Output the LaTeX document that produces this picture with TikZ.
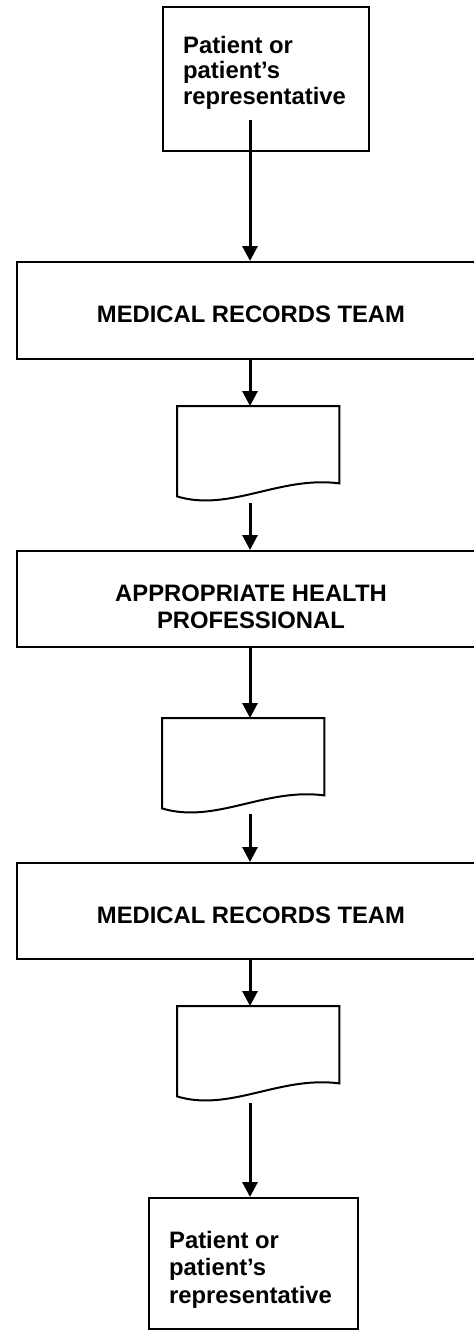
\documentclass[tikz,border=0pt]{standalone}
\usepackage{fontspec}
\setmainfont{Liberation Sans}
\usetikzlibrary{arrows.meta}
\begin{document}
\begin{tikzpicture}[x=1pt,y=-1pt,
  boxn/.style={draw=black,line width=2pt,inner sep=0pt,anchor=north west},
  docn/.style={draw=none,inner sep=0pt,anchor=north west,minimum width=162pt,minimum height=90pt},
  docline/.style={draw=black,line width=2pt,line join=miter},
  txt/.style={inner sep=0pt,font=\fontsize{23.8}{25.5}\selectfont\bfseries},
  arr/.style={draw=black,line width=3pt,-{Triangle[width=15pt,length=15pt]}}]
\clip (0,0) rectangle (474,1334);
\useasboundingbox (0,0) rectangle (474,1334);
\fill[white] (0,0) rectangle (474,1334);
% boxes
\node[boxn,minimum width=206pt,minimum height=144pt] (p1) at (162,6) {};
\node[txt,align=left,anchor=base west] (p1t) at (183,104) {Patient or\\patient’s\\representative};
\node[boxn,minimum width=470pt,minimum height=97pt] (mrt1) at (16,261) {};
\node[txt,anchor=base] (mrt1t) at (251,322) {MEDICAL RECORDS TEAM};
\node[docn] (d1) at (177,406) {};
\node[boxn,minimum width=470pt,minimum height=96pt] (aph) at (16,550) {};
\node[txt,align=center,anchor=base,font=\fontsize{23.8}{27}\selectfont\bfseries] (apht) at (251,628) {APPROPRIATE HEALTH\\PROFESSIONAL};
\node[docn] (d2) at (162,718) {};
\node[boxn,minimum width=470pt,minimum height=96pt] (mrt2) at (16,862) {};
\node[txt,anchor=base] (mrt2t) at (251,923) {MEDICAL RECORDS TEAM};
\node[docn] (d3) at (177,1006) {};
\node[boxn,minimum width=209pt,minimum height=131pt] (p2) at (148,1197) {};
\node[txt,align=left,anchor=base west,font=\fontsize{23.8}{27.5}\selectfont\bfseries] (p2t) at (169,1303) {Patient or\\patient’s\\representative};
% document shapes
\foreach \d in {d1,d2,d3}{
  \draw[docline] (\d.south west) .. controls ([shift={(53pt,-16pt)}]\d.south west) and ([shift={(103pt,21pt)}]\d.south west) .. ([yshift=13pt]\d.south east) -- (\d.north east) -- (\d.north west) -- cycle;
}
% connectors
\coordinate (s0) at (250,120);
\coordinate (o1) at (250,503);
\coordinate (o2) at (250,814);
\coordinate (o3) at (250,1103);
\draw[arr] (s0) -- (mrt1.north -| s0);
\draw[arr] (mrt1.south -| s0) -- (d1.north -| s0);
\draw[arr] (o1) -- (aph.north -| s0);
\draw[arr] (aph.south -| s0) -- (d2.north -| s0);
\draw[arr] (o2) -- (mrt2.north -| s0);
\draw[arr] (mrt2.south -| s0) -- (d3.north -| s0);
\draw[arr] (o3) -- (p2.north -| s0);
\end{tikzpicture}
\end{document}
